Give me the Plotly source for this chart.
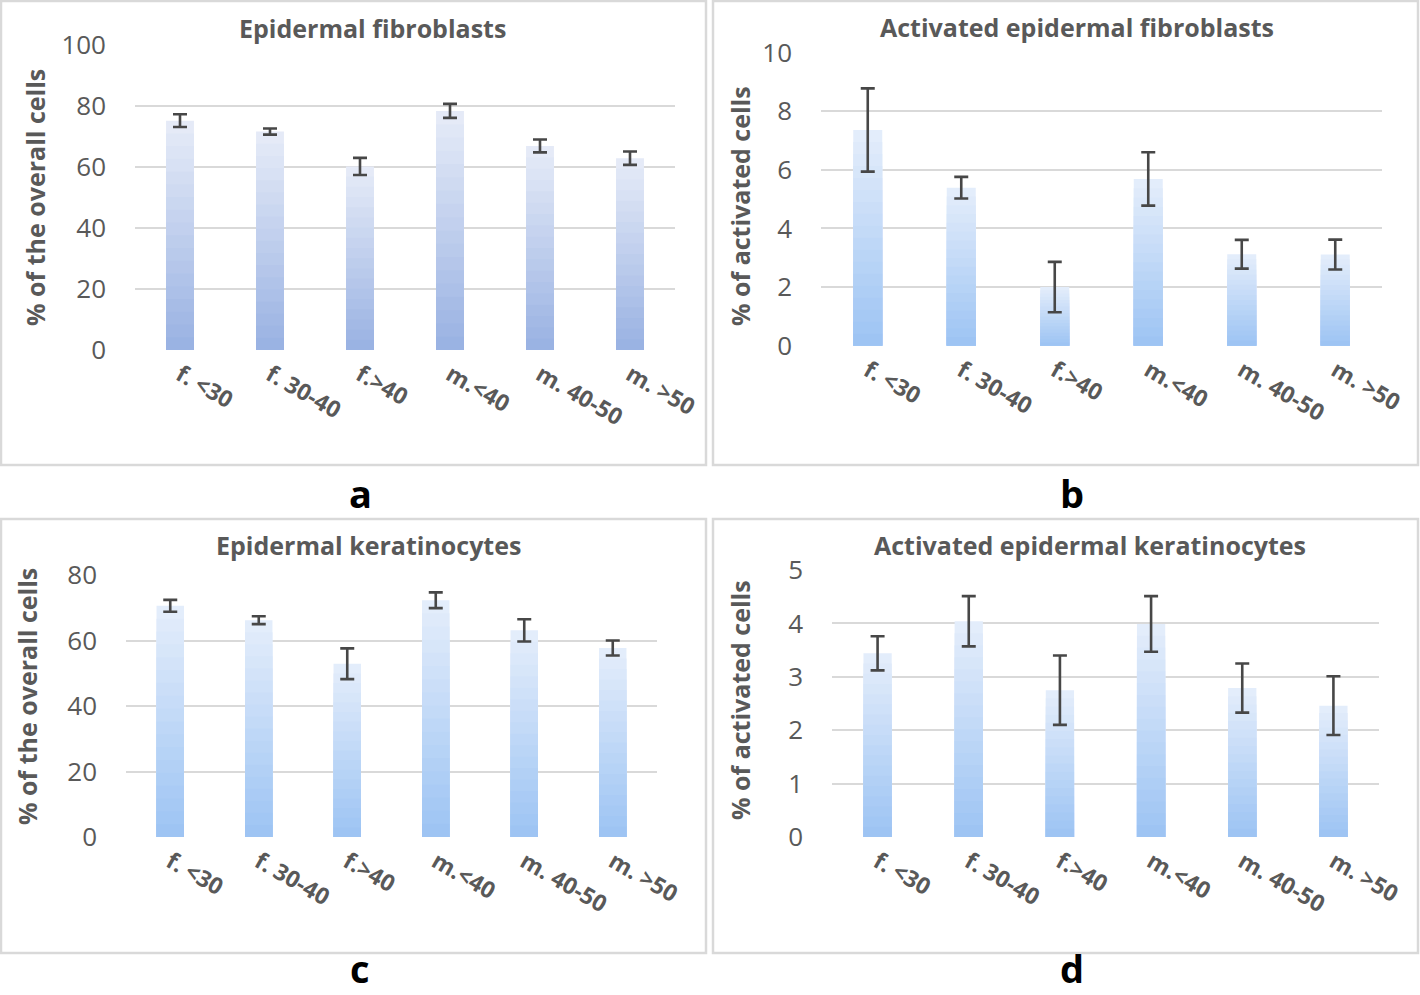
import plotly.graph_objects as go

# ---------------- data ----------------
categories = ["f. <30", "f. 30-40", "f.>40", "m.<40", "m. 40-50", "m. >50"]

fib_values = [75.2, 71.6, 60.2, 78.4, 66.9, 62.9]
fib_errors = [2.1, 1.0, 2.8, 2.3, 2.1, 2.2]

act_fib_values = [7.36, 5.39, 2.00, 5.69, 3.12, 3.11]
act_fib_errors = [1.42, 0.37, 0.86, 0.91, 0.49, 0.51]

ker_values = [70.6, 66.2, 52.9, 72.3, 63.1, 57.7]
ker_errors = [1.8, 1.2, 4.7, 2.4, 3.4, 2.3]

act_ker_values = [3.44, 4.04, 2.75, 3.99, 2.79, 2.46]
act_ker_errors = [0.32, 0.47, 0.65, 0.52, 0.46, 0.55]

panel_titles = ["Epidermal fibroblasts", "Activated epidermal fibroblasts",
                "Epidermal keratinocytes", "Activated epidermal keratinocytes"]
y_titles = ["% of the overall cells", "% of activated cells",
            "% of the overall cells", "% of activated cells"]
panel_letters = ["a", "b", "c", "d"]

# ---------------- styling ----------------
W, H = 1420, 995
FONT = "Open Sans"
TXT = "#595959"
GRID = "#d9d9d9"

panels = [
    dict(vals=fib_values, errs=fib_errors, rng=[0, 100], dtick=20,
         px=(135, 675), py=(45, 350), top="#e7ecf8", bot="#98b1e2",
         title_xy=(372, 28), ytitle_xy=(35, 198), letter_xy=(360, 493)),
    dict(vals=act_fib_values, errs=act_fib_errors, rng=[0, 10], dtick=2,
         px=(821, 1382), py=(52.6, 345.7), top="#e5eefb", bot="#9cc3f3",
         title_xy=(1077, 27), ytitle_xy=(740, 206), letter_xy=(1072, 493)),
    dict(vals=ker_values, errs=ker_errors, rng=[0, 80], dtick=20,
         px=(126, 657), py=(575, 837), top="#e5eefb", bot="#9cc3f3",
         title_xy=(368, 545), ytitle_xy=(27, 697), letter_xy=(360, None)),
    dict(vals=act_ker_values, errs=act_ker_errors, rng=[0, 5], dtick=1,
         px=(832, 1379), py=(570, 837), top="#e5eefb", bot="#9cc3f3",
         title_xy=(1090, 545), ytitle_xy=(740, 700), letter_xy=(1072, None)),
]


def hex2rgb(h):
    h = h.lstrip("#")
    return tuple(int(h[i:i + 2], 16) for i in (0, 2, 4))


def mix(c1, c2, t):
    a, b = hex2rgb(c1), hex2rgb(c2)
    return "rgb(%d,%d,%d)" % tuple(round(a[i] + (b[i] - a[i]) * t) for i in range(3))


N_GRAD = 18
BAR_W = 0.31

fig = go.Figure()
layout = dict(width=W, height=H, margin=dict(l=0, r=0, t=0, b=0, pad=0),
              paper_bgcolor="white", plot_bgcolor="white",
              barmode="overlay", showlegend=False)

annotations = []
shapes = []

for i, p in enumerate(panels):
    sfx = "" if i == 0 else str(i + 1)
    xa, ya = "x" + sfx, "y" + sfx
    # gradient bars: overlay of progressively shorter, darker bars
    for k in range(N_GRAD):
        frac = (N_GRAD - k) / N_GRAD
        t = (k + 0.5) / N_GRAD  # 0 -> top colour, 1 -> bottom colour
        fig.add_trace(go.Bar(
            x=categories, y=[v * frac for v in p["vals"]], base=0,
            width=BAR_W, xaxis=xa, yaxis=ya,
            marker=dict(color=mix(p["top"], p["bot"], t), line=dict(width=0)),
            hoverinfo="skip"))
    # error bars
    fig.add_trace(go.Scatter(
        x=categories, y=p["vals"], mode="markers", xaxis=xa, yaxis=ya,
        marker=dict(size=1, opacity=0),
        error_y=dict(type="data", array=p["errs"], visible=True,
                     color="#474747", thickness=2.6, width=7)))

    x0, x1 = p["px"]
    y0, y1 = p["py"]
    layout["xaxis" + sfx] = dict(
        domain=[x0 / W, x1 / W], anchor=ya, type="category", automargin=False,
        range=[-0.5, 5.5], showgrid=False, zeroline=False, showline=False,
        ticks="", tickangle=30, ticklabelstandoff=6,
        tickfont=dict(family=FONT, size=23, color=TXT, weight="bold"))
    layout["yaxis" + sfx] = dict(
        domain=[1 - y1 / H, 1 - y0 / H], anchor=xa, automargin=False,
        range=p["rng"], dtick=p["dtick"], showgrid=True, gridcolor=GRID,
        gridwidth=2, zeroline=False, showline=False, ticks="",
        ticklabelstandoff=28,
        tickfont=dict(family=FONT, size=26, color=TXT))

    tx, ty = p["title_xy"]
    annotations.append(dict(
        text=panel_titles[i], x=tx / W, y=1 - ty / H, xref="paper", yref="paper",
        showarrow=False, xanchor="center", yanchor="middle",
        font=dict(family=FONT, size=25, color=TXT, weight="bold")))
    yx, yy = p["ytitle_xy"]
    annotations.append(dict(
        text=y_titles[i], x=yx / W, y=1 - yy / H, xref="paper", yref="paper",
        showarrow=False, xanchor="center", yanchor="middle", textangle=-90,
        font=dict(family=FONT, size=25, color=TXT, weight="bold")))
    lx, ly = p["letter_xy"]
    if ly is None:
        annotations.append(dict(
            text=panel_letters[i], x=lx / W, y=0, xref="paper", yref="paper",
            showarrow=False, xanchor="center", yanchor="bottom", borderpad=0,
            font=dict(family=FONT, size=38, color="black", weight="bold")))
    else:
        annotations.append(dict(
            text=panel_letters[i], x=lx / W, y=1 - ly / H, xref="paper", yref="paper",
            showarrow=False, xanchor="center", yanchor="middle",
            font=dict(family=FONT, size=38, color="black", weight="bold")))

boxes = [(1, 1, 706, 465), (713, 1, 1418, 465), (1, 519, 706, 953), (713, 519, 1418, 953)]
for bx0, by0, bx1, by1 in boxes:
    shapes.append(dict(type="rect", xref="paper", yref="paper",
                       x0=bx0 / W, x1=bx1 / W, y0=1 - by1 / H, y1=1 - by0 / H,
                       line=dict(color=GRID, width=2.5), fillcolor="rgba(0,0,0,0)",
                       layer="below"))

layout["annotations"] = annotations
layout["shapes"] = shapes
fig.update_layout(**layout)

# remove the default 8px page margin so the 1420x995 figure fills the window exactly
fig.write_html("out.html", config={"displayModeBar": False},
               post_script="document.body.style.margin='0';")
